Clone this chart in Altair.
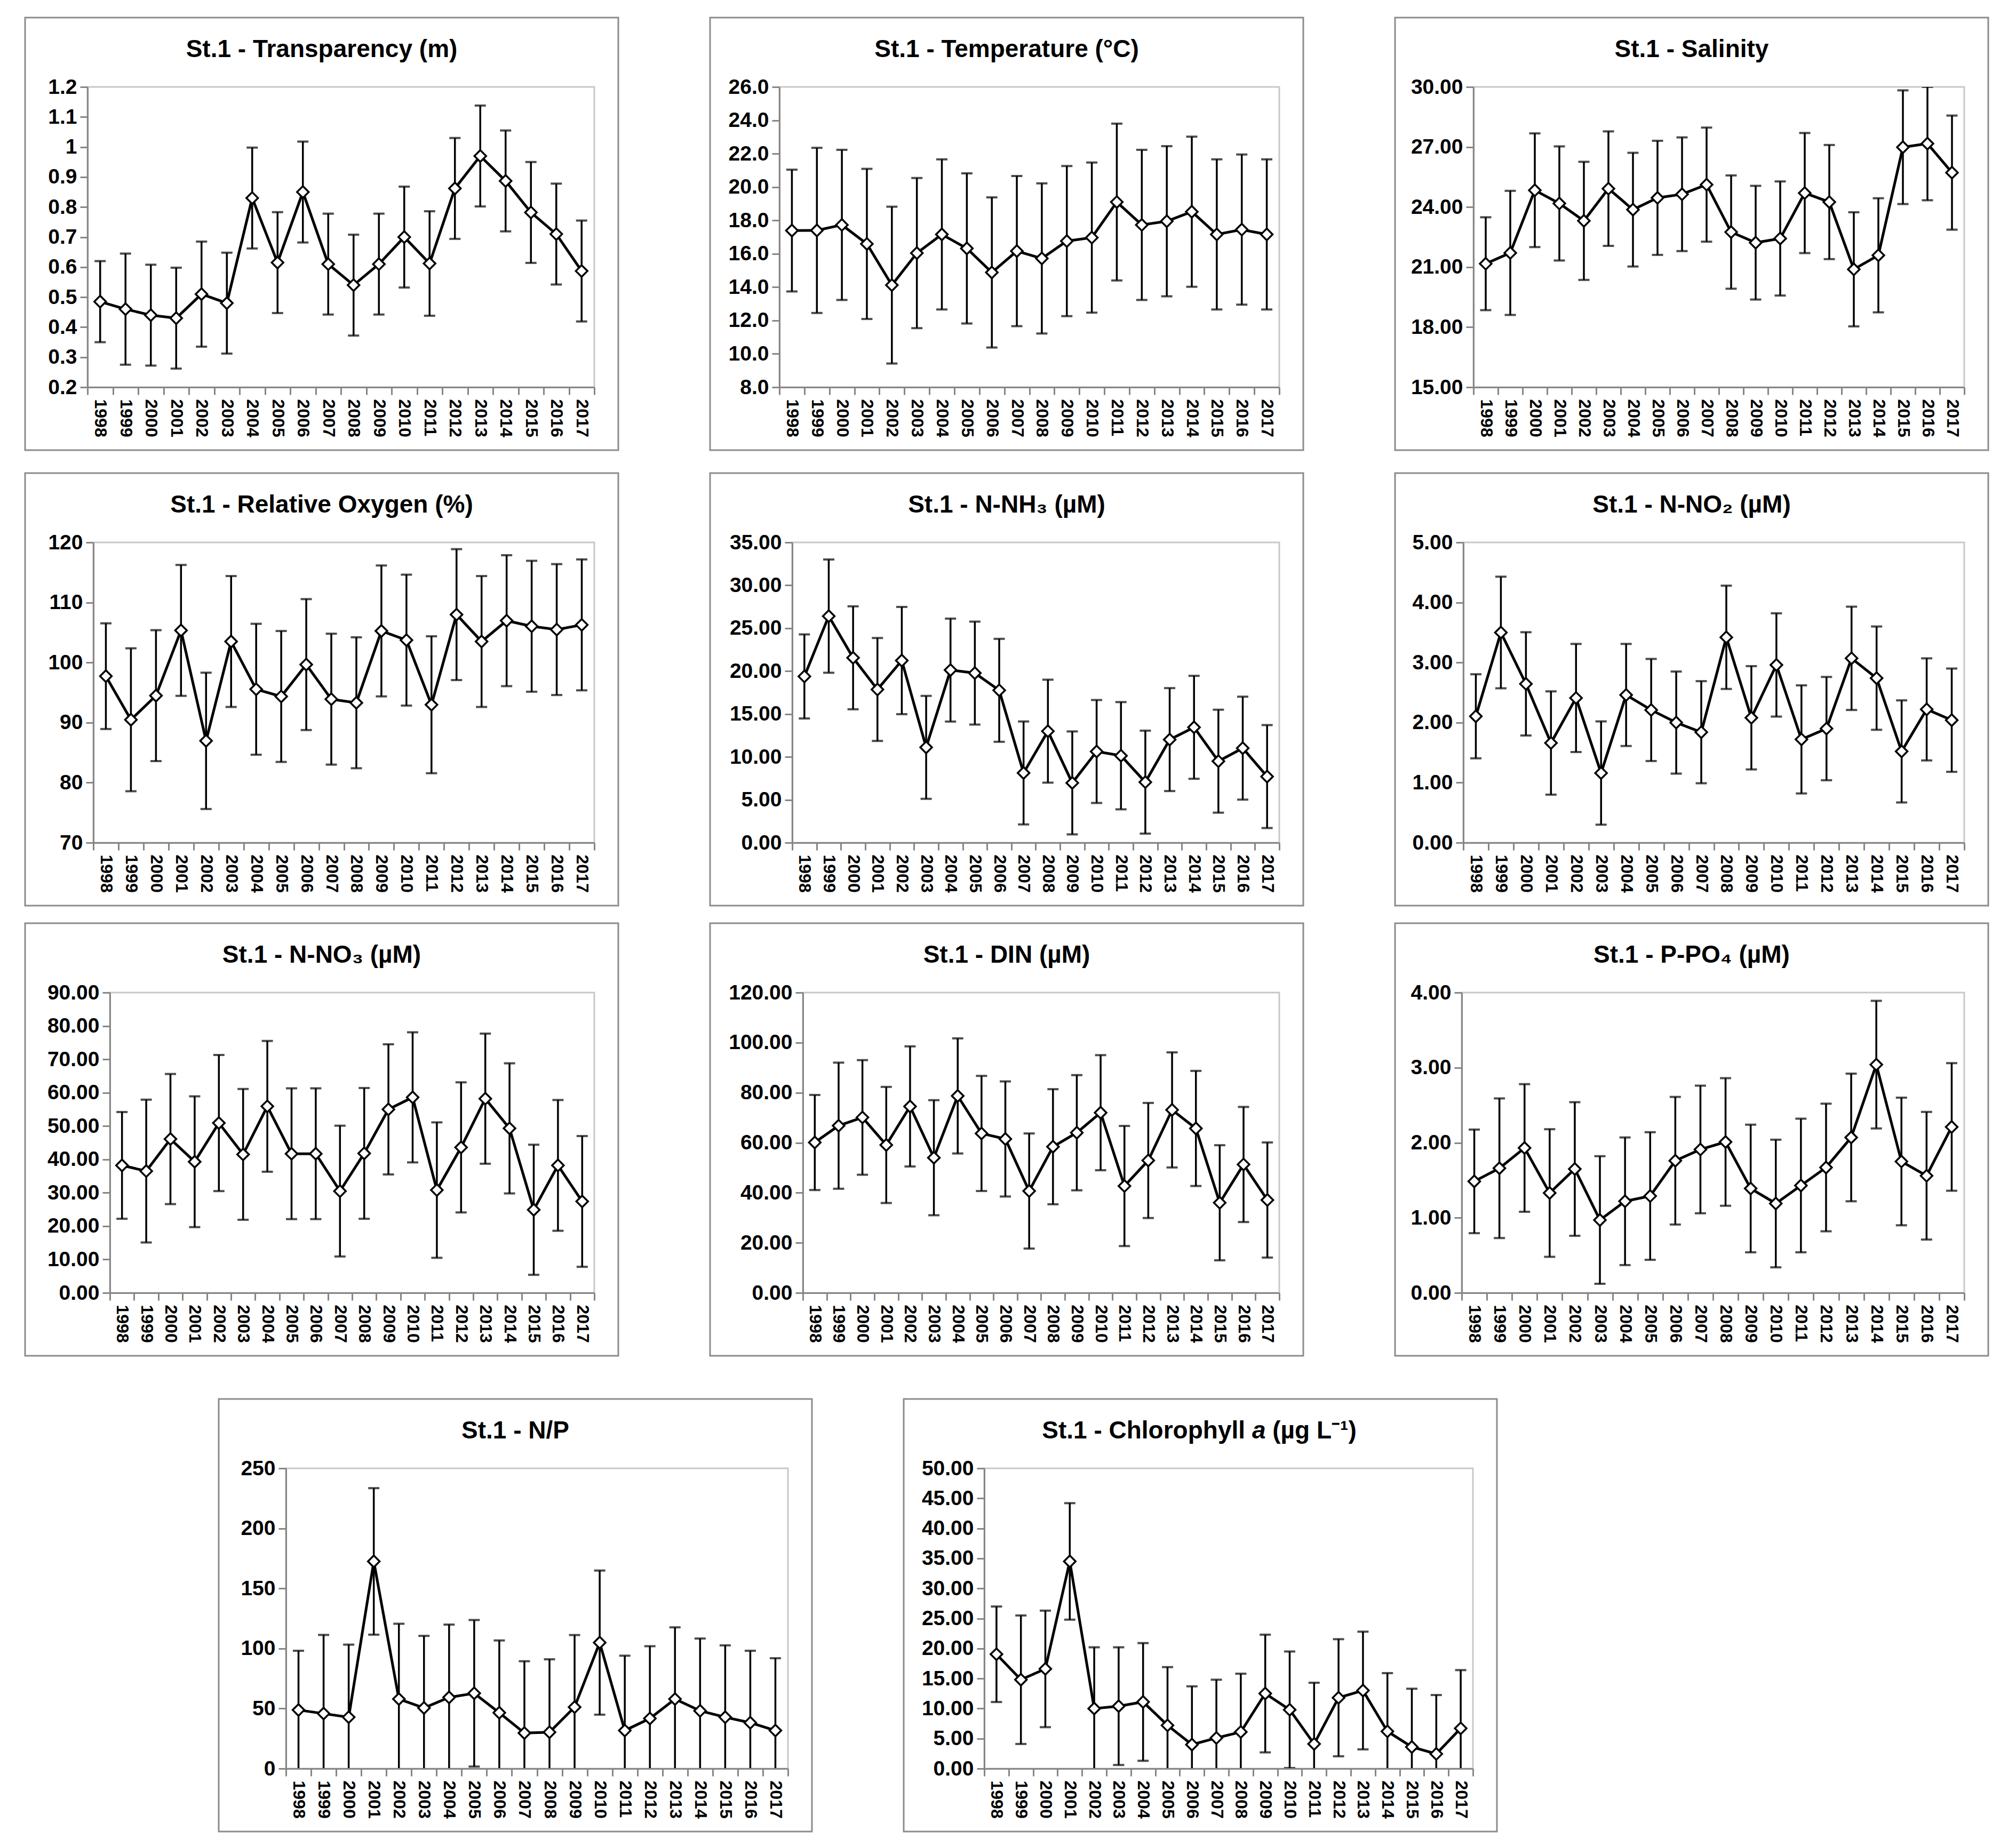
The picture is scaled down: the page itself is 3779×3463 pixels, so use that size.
import altair as alt
import pandas as pd

years = list(range(1998, 2018))

# ---------------- data (mean and error half-width) ----------------
transp_mean = [0.485, 0.46, 0.44, 0.43, 0.51, 0.48, 0.83, 0.615, 0.85, 0.61,
               0.54, 0.61, 0.70, 0.612, 0.862, 0.97, 0.887, 0.782, 0.71, 0.587]
transp_sd = [0.135, 0.185, 0.168, 0.168, 0.175, 0.168, 0.168, 0.168, 0.168, 0.168,
             0.168, 0.168, 0.168, 0.174, 0.168, 0.168, 0.168, 0.168, 0.168, 0.168]

temp_mean = [17.39, 17.40, 17.73, 16.59, 14.12, 16.04, 17.16, 16.32, 14.88, 16.16,
             15.72, 16.76, 16.97, 19.10, 17.73, 17.95, 18.52, 17.16, 17.45, 17.16]
temp_sd = [3.65, 4.95, 4.5, 4.5, 4.7, 4.5, 4.5, 4.5, 4.5, 4.5,
           4.5, 4.5, 4.5, 4.7, 4.5, 4.5, 4.5, 4.5, 4.5, 4.5]

sal_mean = [21.17, 21.71, 24.84, 24.18, 23.31, 24.92, 23.87, 24.46, 24.64, 25.12,
            22.75, 22.22, 22.43, 24.70, 24.25, 20.89, 21.59, 26.99, 27.17, 25.72]
sal_sd = [2.32, 3.1, 2.84, 2.85, 2.95, 2.86, 2.84, 2.85, 2.84, 2.85,
          2.83, 2.84, 2.85, 3.0, 2.85, 2.85, 2.85, 2.84, 2.83, 2.85]

oxy_mean = [97.73, 90.47, 94.49, 105.35, 86.96, 103.5, 95.55, 94.35, 99.66, 93.9,
            93.3, 105.26, 103.73, 92.97, 107.98, 103.5, 106.97, 106.04, 105.49, 106.27]
oxy_sd = [8.8, 11.9, 10.9, 10.9, 11.35, 10.9, 10.9, 10.9, 10.9, 10.9,
          10.9, 10.9, 10.9, 11.4, 10.9, 10.9, 10.9, 10.9, 10.9, 10.9]

nh3_mean = [19.38, 26.41, 21.55, 17.86, 21.23, 11.11, 20.12, 19.77, 17.76, 8.13,
            13.0, 6.97, 10.63, 10.14, 7.06, 12.02, 13.45, 9.5, 11.02, 7.71]
nh3_sd = [4.9, 6.6, 6.0, 6.0, 6.25, 6.0, 6.0, 6.0, 6.0, 6.0,
          6.0, 6.0, 6.0, 6.25, 6.0, 6.0, 6.0, 6.0, 6.0, 6.0]

no2_mean = [2.105, 3.5, 2.645, 1.66, 2.41, 1.16, 2.46, 2.21, 2.0, 1.84,
            3.42, 2.08, 2.96, 1.72, 1.9, 3.07, 2.74, 1.52, 2.22, 2.04]
no2_sd = [0.7, 0.93, 0.86, 0.86, 0.9, 0.86, 0.85, 0.85, 0.85, 0.85,
          0.86, 0.86, 0.86, 0.9, 0.86, 0.86, 0.86, 0.85, 0.85, 0.86]

no3_mean = [38.2, 36.5, 46.1, 39.3, 50.9, 41.5, 55.9, 41.7, 41.7, 30.5,
            41.8, 55.0, 58.6, 30.8, 43.6, 58.2, 49.3, 24.9, 38.2, 27.4]
no3_sd = [16.0, 21.4, 19.5, 19.6, 20.4, 19.6, 19.6, 19.6, 19.6, 19.6,
          19.6, 19.5, 19.5, 20.3, 19.5, 19.5, 19.5, 19.5, 19.6, 19.6]

din_mean = [60.1, 66.8, 70.1, 59.1, 74.5, 54.0, 78.7, 63.7, 61.5, 40.7,
            58.4, 64.0, 72.0, 42.7, 52.9, 73.1, 65.7, 36.0, 51.3, 37.1]
din_sd = [19.0, 25.2, 22.9, 23.2, 24.0, 23.0, 23.0, 23.0, 23.0, 23.0,
          23.0, 23.0, 23.0, 24.0, 23.0, 23.0, 23.0, 23.0, 23.0, 23.0]

po4_mean = [1.485, 1.66, 1.93, 1.33, 1.65, 0.97, 1.22, 1.29, 1.76, 1.91,
            2.01, 1.39, 1.19, 1.43, 1.67, 2.07, 3.04, 1.75, 1.56, 2.21]
po4_sd = [0.69, 0.93, 0.85, 0.85, 0.89, 0.85, 0.85, 0.85, 0.85, 0.85,
          0.85, 0.85, 0.85, 0.89, 0.85, 0.85, 0.85, 0.85, 0.85, 0.85]

np_mean = [48.8, 45.8, 42.8, 172.5, 57.9, 50.5, 59.3, 62.7, 46.5, 29.6,
           30.3, 51.2, 104.9, 31.7, 41.7, 57.9, 48.1, 42.8, 38.2, 31.7]
np_sd = [49.3, 65.5, 60.4, 61.0, 62.7, 60.0, 60.6, 61.0, 60.2, 59.8,
         60.7, 60.0, 60.0, 62.3, 60.2, 59.7, 60.2, 59.8, 59.9, 60.2]

chl_mean = [19.04, 14.8, 16.6, 34.5, 10.0, 10.4, 11.1, 7.2, 4.0, 5.1,
            6.1, 12.5, 9.8, 4.1, 11.8, 13.0, 6.2, 3.6, 2.45, 6.7]
chl_sd = [7.95, 10.7, 9.7, 9.7, 10.2, 9.8, 9.8, 9.7, 9.7, 9.7,
          9.7, 9.8, 9.7, 10.2, 9.75, 9.8, 9.7, 9.7, 9.8, 9.7]

# axis tick values
transp_ticks = [0.2, 0.3, 0.4, 0.5, 0.6, 0.7, 0.8, 0.9, 1.0, 1.1, 1.2]
temp_ticks = [8, 10, 12, 14, 16, 18, 20, 22, 24, 26]
sal_ticks = [15, 18, 21, 24, 27, 30]
oxy_ticks = [70, 80, 90, 100, 110, 120]
nh3_ticks = [0, 5, 10, 15, 20, 25, 30, 35]
no2_ticks = [0, 1, 2, 3, 4, 5]
no3_ticks = [0, 10, 20, 30, 40, 50, 60, 70, 80, 90]
din_ticks = [0, 20, 40, 60, 80, 100, 120]
po4_ticks = [0, 1, 2, 3, 4]
np_ticks = [0, 50, 100, 150, 200, 250]
chl_ticks = [0, 5, 10, 15, 20, 25, 30, 35, 40, 45, 50]

# ---------------- layout constants (pixels) ----------------
FRAME_W = 1112
PLOT_RIGHT = 1067   # plot right edge measured from frame left
PAD_T = 130
PLOT_H = 563
PAD_B = 118
TITLE_SIZE = 46
FONT = "Liberation Sans, Arial, Helvetica, sans-serif"
NARROW = "Liberation Sans Narrow, Arial Narrow, Liberation Sans, sans-serif"
AXIS_GRAY = "#868686"


def panel(title_parts, mean, sd, ticks, fmt, pad_l):
    w = PLOT_RIGHT - pad_l
    pad_r = FRAME_W - PLOT_RIGHT
    df = pd.DataFrame({"year": years, "mean": mean, "sd": sd})
    df["lo"] = df["mean"] - df["sd"]
    df["hi"] = df["mean"] + df["sd"]

    xscale = alt.Scale(type="band", paddingInner=0, paddingOuter=0)
    xaxis = alt.Axis(title=None, labelAngle=90, tickBand="extent", labelFontSize=32,
                     labelFont=FONT, labelFontWeight="bold", labelPadding=8,
                     tickSize=14, zindex=1)
    yscale = alt.Scale(domain=[ticks[0], ticks[-1]], nice=False, zero=False)
    yaxis = alt.Axis(title=None, values=ticks, format=fmt, grid=False, labelFontSize=39,
                     labelFont=NARROW, labelFontWeight="bold", labelPadding=6,
                     tickSize=14, zindex=1)

    one = pd.DataFrame({"f": [0]})
    frame = alt.Chart(one).mark_rect(fillOpacity=0, stroke="#8c8c8c", strokeWidth=3).encode(
        x=alt.value(-pad_l), x2=alt.value(w + pad_r),
        y=alt.value(-PAD_T), y2=alt.value(PLOT_H + PAD_B))
    border = alt.Chart(one).mark_rect(fillOpacity=0, stroke="#c8c8c8", strokeWidth=3).encode(
        x=alt.value(0), x2=alt.value(w), y=alt.value(0), y2=alt.value(PLOT_H))

    # title pieces: (text, italic, advance width in em including following space)
    cx = (w + pad_r - pad_l) / 2
    titles = []
    if len(title_parts) == 1:
        titles = [alt.Chart(one).mark_text(
            fontSize=TITLE_SIZE, fontWeight="bold", font=FONT, color="black",
            align="center", baseline="middle").encode(
            x=alt.value(cx), y=alt.value(-70), text=alt.value(title_parts[0][0]))]
    else:
        total = sum(p[2] for p in title_parts) * TITLE_SIZE
        xpos = cx - total / 2
        for text, italic, em in title_parts:
            titles.append(alt.Chart(one).mark_text(
                fontSize=TITLE_SIZE, fontWeight="bold", font=FONT, color="black",
                fontStyle="italic" if italic else "normal",
                align="left", baseline="middle").encode(
                x=alt.value(xpos), y=alt.value(-70), text=alt.value(text)))
            xpos += em * TITLE_SIZE

    base = alt.Chart(df)
    X = alt.X("year:O", scale=xscale, axis=xaxis)
    bars = base.mark_rule(color="black", strokeWidth=3.5, clip=True).encode(
        x=X, y=alt.Y("lo:Q", scale=yscale, axis=yaxis), y2="hi:Q")
    cap_lo = base.mark_tick(color="black", thickness=4, size=21, clip=True).encode(
        x=X, y=alt.Y("lo:Q", scale=yscale, axis=yaxis))
    cap_hi = base.mark_tick(color="black", thickness=4, size=21, clip=True).encode(
        x=X, y=alt.Y("hi:Q", scale=yscale, axis=yaxis))
    line = base.mark_line(color="black", strokeWidth=5).encode(
        x=X, y=alt.Y("mean:Q", scale=yscale, axis=yaxis))
    pts = base.mark_point(shape="diamond", filled=True, fill="white", stroke="black",
                          strokeWidth=3.5, size=480, opacity=1).encode(
        x=X, y=alt.Y("mean:Q", scale=yscale, axis=yaxis))

    return alt.layer(frame, border, *titles, bars, cap_lo, cap_hi, line, pts).properties(
        width=w, height=PLOT_H)


def spacer(width):
    return alt.Chart(pd.DataFrame({"f": [0]})).mark_rect(opacity=0).encode(
        x=alt.value(0), x2=alt.value(width), y=alt.value(0), y2=alt.value(10)
    ).properties(width=width, height=10)


def simple(t):
    return [(t, False, 0)]


p1 = panel(simple("St.1 - Transparency (m)"), transp_mean, transp_sd, transp_ticks, "~g", 117)
p2 = panel(simple("St.1 - Temperature (°C)"), temp_mean, temp_sd, temp_ticks, ".1f", 130)
p3 = panel(simple("St.1 - Salinity"), sal_mean, sal_sd, sal_ticks, ".2f", 147)
p4 = panel(simple("St.1 - Relative Oxygen (%)"), oxy_mean, oxy_sd, oxy_ticks, "d", 128)
p5 = panel(simple("St.1 - N-NH\u2083 (\u00b5M)"), nh3_mean, nh3_sd, nh3_ticks, ".2f", 154)
p6 = panel(simple("St.1 - N-NO\u2082 (\u00b5M)"), no2_mean, no2_sd, no2_ticks, ".2f", 128)
p7 = panel(simple("St.1 - N-NO\u2083 (\u00b5M)"), no3_mean, no3_sd, no3_ticks, ".2f", 159)
p8 = panel(simple("St.1 - DIN (\u00b5M)"), din_mean, din_sd, din_ticks, ".2f", 174)
p9 = panel(simple("St.1 - P-PO\u2084 (\u00b5M)"), po4_mean, po4_sd, po4_ticks, ".2f", 125)
p10 = panel(simple("St.1 - N/P"), np_mean, np_sd, np_ticks, "d", 126)
p11 = panel([("St.1 - Chlorophyll", False, 8.557), ("a", True, 0.834),
             ("(\u00b5g L\u207b\u00b9)", False, 3.51)],
            chl_mean, chl_sd, chl_ticks, ".2f", 151)

GAP = 168
row1 = alt.hconcat(spacer(1), alt.hconcat(p1, p2, p3, spacing=GAP), spacing=0)
row2 = alt.hconcat(spacer(1), alt.hconcat(p4, p5, p6, spacing=GAP), spacing=0)
row3 = alt.hconcat(spacer(1), alt.hconcat(p7, p8, p9, spacing=GAP), spacing=0)
row4 = alt.hconcat(spacer(364), alt.hconcat(p10, p11, spacing=GAP), spacing=0)

r12 = alt.vconcat(row1, row2, spacing=39)
r123 = alt.vconcat(r12, row3, spacing=29)
chart = alt.vconcat(r123, row4, spacing=77).properties(
    padding={"left": 34, "top": 23, "right": 5, "bottom": 5},
    background="white",
).configure_view(stroke="transparent").configure_axis(
    domainColor=AXIS_GRAY, domainWidth=3, tickColor=AXIS_GRAY, tickWidth=3,
    labelColor="black",
)

chart.save("out.html", embed_options={"renderer": "svg", "actions": False})
